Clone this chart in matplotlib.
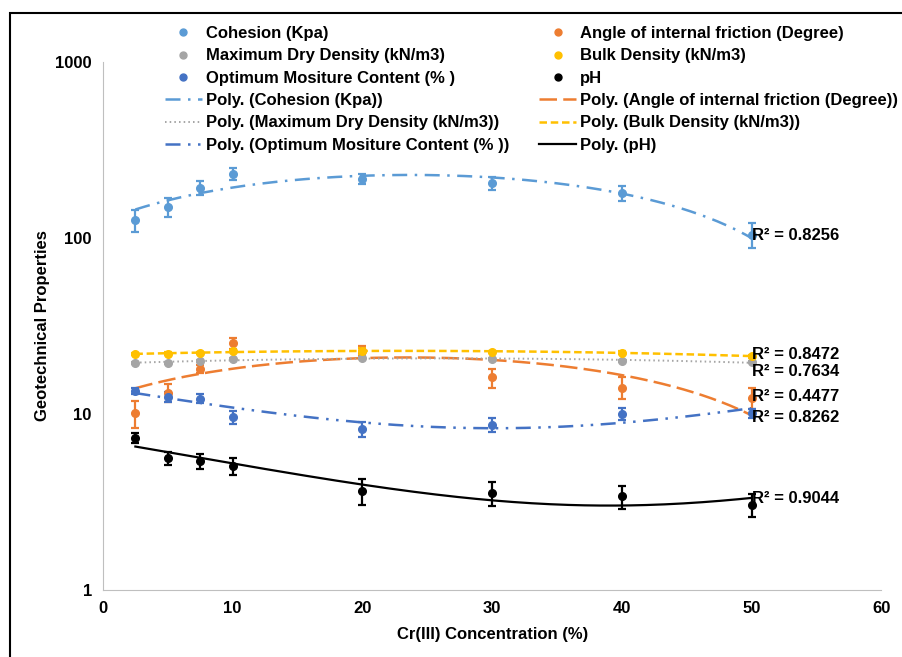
import matplotlib.pyplot as plt
import numpy as np
from matplotlib.lines import Line2D
from matplotlib.patches import Rectangle

plt.rcParams['font.family'] = ['Liberation Sans', 'DejaVu Sans']
plt.rcParams['font.weight'] = 'bold'

# data
conc = [2.5, 5, 7.5, 10, 20, 30, 40, 50]

cohesion = [126, 150, 192, 231, 216, 205, 180, 104]
cohesion_err = [18, 18, 18, 18, 15, 18, 18, 17]

angle = [10.1, 13.2, 18.0, 25.3, 22.8, 16.1, 14.1, 12.3]
angle_err = [1.8, 1.5, 1.0, 1.8, 1.5, 2.0, 2.0, 1.7]

mdd = [19.5, 19.5, 20.0, 20.5, 20.8, 20.5, 20.0, 19.7]
mdd_err = [0.3, 0.3, 0.3, 0.3, 0.3, 0.3, 0.3, 0.3]

bulk = [21.9, 22.0, 22.2, 22.8, 22.8, 22.5, 22.3, 21.3]
bulk_err = [0.4, 0.4, 0.4, 0.4, 0.8, 0.4, 0.4, 0.4]

omc = [13.5, 12.5, 12.2, 9.6, 8.2, 8.65, 10.0, 10.1]
omc_err = [0.5, 0.8, 0.7, 0.8, 0.8, 0.8, 0.8, 0.6]

ph = [7.3, 5.6, 5.4, 5.06, 3.65, 3.55, 3.4, 3.04]
ph_err = [0.5, 0.5, 0.55, 0.55, 0.6, 0.55, 0.5, 0.45]

r2_text = ['R² = 0.8256', 'R² = 0.8472', 'R² = 0.7634', 'R² = 0.4477', 'R² = 0.8262', 'R² = 0.9044']
r2_y = [102.6, 21.8, 17.3, 12.5, 9.5, 3.29]

names = ['Cohesion (Kpa)', 'Angle of internal friction (Degree)', 'Maximum Dry Density (kN/m3)',
         'Bulk Density (kN/m3)', 'Optimum Mositure Content (% )', 'pH']
poly_names = ['Poly. (Cohesion (Kpa))', 'Poly. (Angle of internal friction (Degree))',
              'Poly. (Maximum Dry Density (kN/m3))', 'Poly. (Bulk Density (kN/m3))',
              'Poly. (Optimum Mositure Content (% ))', 'Poly. (pH)']

colors = ['#5B9BD5', '#ED7D31', '#A5A5A5', '#FFC000', '#4472C4', '#000000']
dashes = [(6, 3, 1, 3), (7, 2.5), (0.8, 1.6), (3, 1.5), (6, 3, 1, 3, 1, 3), None]
widths = [1.8, 1.8, 1.4, 1.8, 1.8, 1.6]

series = [(cohesion, cohesion_err), (angle, angle_err), (mdd, mdd_err),
          (bulk, bulk_err), (omc, omc_err), (ph, ph_err)]

fs = 12

fig = plt.figure(figsize=(9.03, 6.57), dpi=100)
ax = fig.add_axes([0.114, 0.102, 0.862, 0.804])

x = np.array(conc)
xs = np.linspace(2.5, 50, 200)
pt_handles = []
ln_handles = []
for i, (vals, err) in enumerate(series):
    ax.errorbar(conc, vals, yerr=err, fmt='o', color=colors[i], ms=5.5,
                elinewidth=1.6, capsize=3, capthick=1.6, zorder=3)
    # 2nd order poly trendline like Excel
    coef = np.polyfit(x, np.array(vals), 2)
    ln, = ax.plot(xs, np.polyval(coef, xs), color=colors[i], lw=widths[i], zorder=2)
    if dashes[i] is not None:
        ln.set_dashes(dashes[i])
    pt_handles.append(Line2D([], [], ls='none', marker='o', ms=5, color=colors[i]))
    lh = Line2D([], [], color=colors[i], lw=widths[i])
    if dashes[i] is not None:
        lh.set_dashes(dashes[i])
    ln_handles.append(lh)

for t, yv in zip(r2_text, r2_y):
    ax.text(50, yv, t, ha='left', va='center', fontsize=fs, fontweight='bold', zorder=5)

ax.set_yscale('log')
ax.set_ylim(1, 1000)
ax.set_xlim(0, 60)
ax.set_yticks([1, 10, 100, 1000])
ax.set_yticklabels(['1', '10', '100', '1000'])
ax.minorticks_off()
ax.set_xticks([0, 10, 20, 30, 40, 50, 60])
ax.tick_params(length=0, labelsize=fs, pad=8)
for lab in ax.get_xticklabels() + ax.get_yticklabels():
    lab.set_fontweight('bold')
for s in ['top', 'right']:
    ax.spines[s].set_visible(False)
for s in ['left', 'bottom']:
    ax.spines[s].set_color('#BFBFBF')

ax.set_xlabel('Cr(III) Concentration (%)', fontsize=fs, fontweight='bold', labelpad=8)
ax.set_ylabel('Geotechnical Properties', fontsize=fs, fontweight='bold', labelpad=4)

# legend order: column 1 then column 2
order1 = [0, 2, 4]
order2 = [1, 3, 5]
handles = [pt_handles[k] for k in order1] + [ln_handles[k] for k in order1] + \
          [pt_handles[k] for k in order2] + [ln_handles[k] for k in order2]
labels = [names[k] for k in order1] + [poly_names[k] for k in order1] + \
         [names[k] for k in order2] + [poly_names[k] for k in order2]
fig.legend(handles, labels, ncol=2, loc='upper left', bbox_to_anchor=(165 / 903, 1 - 26 / 657),
           frameon=False, prop={'weight': 'bold', 'size': fs},
           handlelength=2.2, handletextpad=0.25, columnspacing=1.8,
           labelspacing=0.44, borderpad=0, borderaxespad=0)

# outer frame
fig.patches.append(Rectangle((10 / 903, -0.01), 1.0, 1 - 13 / 657 + 0.01, transform=fig.transFigure,
                             fill=False, edgecolor='black', lw=1.5))

fig.savefig('out.png', dpi=100)
